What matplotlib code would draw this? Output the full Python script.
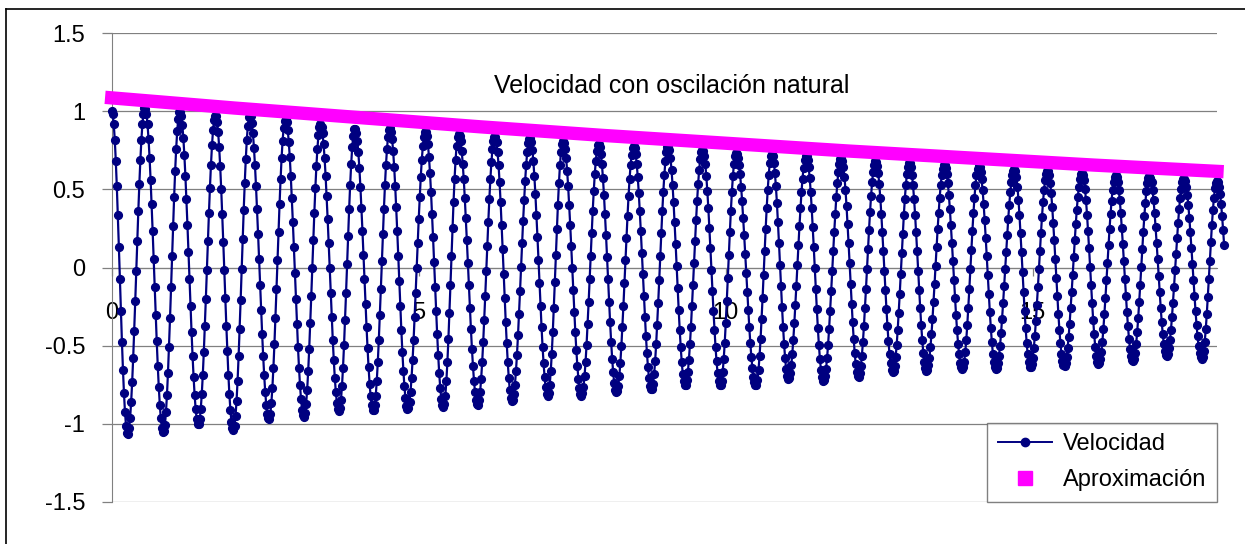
import numpy as np
import matplotlib
matplotlib.use('Agg')
import matplotlib.pyplot as plt
from matplotlib.lines import Line2D

plt.rcParams['font.family'] = ['Liberation Sans', 'DejaVu Sans']

# extremos (tiempo, velocidad)
peak_t = [0.00, 0.54, 1.11, 1.69, 2.25, 2.83, 3.40, 3.96, 4.53, 5.11, 5.65,
          6.24, 6.81, 7.35, 7.93, 8.50, 9.06, 9.62, 10.17, 10.75, 11.31, 11.88,
          12.44, 12.99, 13.56, 14.12, 14.70, 15.24, 15.80, 16.35, 16.90, 17.46,
          18.00]
peak_v = [1.00, 1.02, 1.00, 0.975, 0.98, 0.95, 0.915, 0.89, 0.89, 0.87, 0.855,
          0.84, 0.83, 0.81, 0.79, 0.775, 0.775, 0.755, 0.735, 0.725, 0.715, 0.70,
          0.68, 0.67, 0.66, 0.65, 0.63, 0.62, 0.605, 0.59, 0.585, 0.57, 0.555]
trough_t = [0.26, 0.84, 1.41, 1.98, 2.56, 3.13, 3.70, 4.26, 4.82, 5.40, 5.96,
            6.52, 7.10, 7.65, 8.22, 8.79, 9.34, 9.91, 10.49, 11.02, 11.59,
            12.16, 12.72, 13.27, 13.85, 14.40, 14.96, 15.51, 16.07, 16.63,
            17.18, 17.75, 18.28]
trough_v = [-1.065, -1.055, -1.005, -1.04, -0.97, -0.955, -0.92, -0.915, -0.905,
            -0.895, -0.88, -0.855, -0.82, -0.82, -0.80, -0.78, -0.755, -0.755,
            -0.755, -0.715, -0.725, -0.70, -0.67, -0.66, -0.65, -0.65, -0.64,
            -0.63, -0.62, -0.60, -0.565, -0.585, -0.56]
dt = 1.0 / 60
t_end = 18.12

# envolvente (Aproximación)
env_t = [0, 2, 4, 6, 8, 10, 12, 14, 16, 18]
env_v = [1.085, 1.02, 0.96, 0.90, 0.845, 0.795, 0.745, 0.70, 0.655, 0.615]

title = 'Velocidad con oscilación natural'
xticks = [0, 5, 10, 15]
yticks = [-1.5, -1, -0.5, 0, 0.5, 1, 1.5]
ytick_labels = ['-1.5', '-1', '-0.5', '0', '0.5', '1', '1.5']


def build_velocity():
    # alterna maximos y minimos, medio coseno entre cada par
    ext_t, ext_v = [], []
    for i in range(len(peak_t)):
        ext_t.append(peak_t[i]); ext_v.append(peak_v[i])
        if i < len(trough_t):
            ext_t.append(trough_t[i]); ext_v.append(trough_v[i])
    ext_t = np.array(ext_t); ext_v = np.array(ext_v)
    t = np.arange(0, t_end, dt)
    idx = np.clip(np.searchsorted(ext_t, t, side='right') - 1, 0, len(ext_t) - 2)
    s = (t - ext_t[idx]) / (ext_t[idx + 1] - ext_t[idx])
    v = ext_v[idx] + (ext_v[idx + 1] - ext_v[idx]) * (1 - np.cos(np.pi * s)) / 2
    return t, v


t, v = build_velocity()

fig = plt.figure(figsize=(12.45, 5.44), dpi=100)
ax = fig.add_axes([111.7 / 1245, 1 - 502 / 544, (1217 - 111.7) / 1245, (502 - 33) / 544])

grid_c = '#808080'
for y in yticks:
    ax.axhline(y, color=grid_c, lw=0.9, zorder=1)

ax.plot(t, v, color='#000080', lw=1.6, marker='o', ms=5.6, mec='#000080',
        mfc='#000080', zorder=3, clip_on=False)
ax.plot(env_t, env_v, color='#FF00FF', lw=9.6, solid_capstyle='projecting',
        zorder=4, clip_on=False)

ax.set_xlim(0, 18)
ax.set_ylim(-1.5, 1.5)

for sp in ['top', 'right']:
    ax.spines[sp].set_visible(False)
ax.spines['left'].set_color(grid_c)
ax.spines['bottom'].set_position(('data', 0))
ax.spines['bottom'].set_color(grid_c)

ax.set_xticks(xticks)
ax.set_xticklabels([str(x) for x in xticks])
ax.set_yticks(yticks)
ax.set_yticklabels(ytick_labels)
ax.tick_params(axis='x', direction='out', length=6, width=0.9, color=grid_c,
               pad=19, labelsize=17)
ax.tick_params(axis='y', direction='out', length=7, width=0.9, color=grid_c,
               pad=12, labelsize=17)

ax.text(0.507, (502 - 93) / 469, title, transform=ax.transAxes, ha='center',
        va='baseline', fontsize=18)

handles = [Line2D([], [], color='#000080', lw=1.4, marker='o', ms=6),
           Line2D([], [], color='#FF00FF', lw=0, marker='s', ms=9.5)]
leg = ax.legend(handles, ['Velocidad', 'Aproximación'], loc='lower right',
                bbox_to_anchor=(1.0, 0.0), borderaxespad=0, fontsize=17,
                frameon=True, fancybox=False, handlelength=2.3,
                handletextpad=0.45, labelspacing=0.6, borderpad=0.45)
leg.get_frame().set_edgecolor('#606060')
leg.get_frame().set_linewidth(1.0)
leg.set_zorder(6)

# marco exterior (solo se ven borde superior e izquierdo)
fig.add_artist(Line2D([6 / 1245, 1], [1 - 9 / 544, 1 - 9 / 544], color='black', lw=1.2))
fig.add_artist(Line2D([6 / 1245, 6 / 1245], [0, 1 - 9 / 544], color='black', lw=1.2))

fig.savefig('out.png', dpi=100)
